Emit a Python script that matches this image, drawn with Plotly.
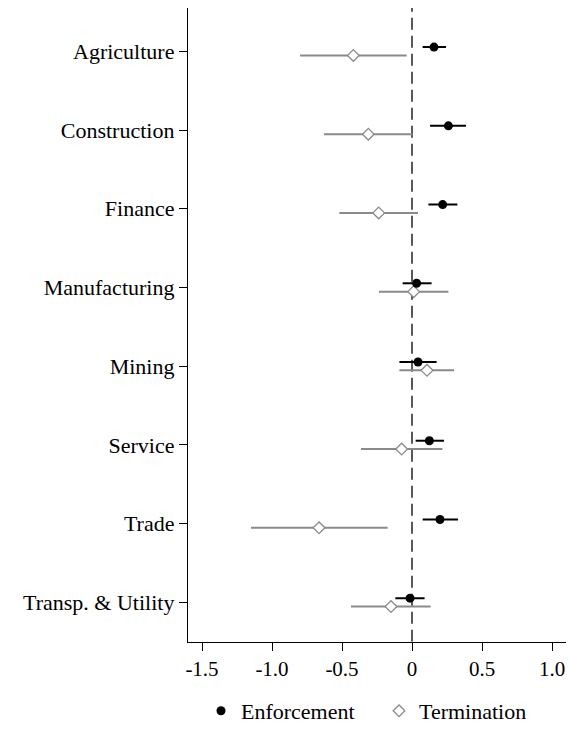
import numpy as np
import plotly.graph_objects as go

# Sector labels, top to bottom
sectors = ["Agriculture", "Construction", "Finance", "Manufacturing",
           "Mining", "Service", "Trade", "Transp. & Utility"]

# Point estimates and confidence bounds
enf_coef = [0.157, 0.260, 0.219, 0.033, 0.043, 0.124, 0.200, -0.014]
enf_lo = [0.076, 0.129, 0.117, -0.067, -0.090, 0.026, 0.076, -0.119]
enf_hi = [0.243, 0.386, 0.324, 0.140, 0.176, 0.229, 0.329, 0.090]

term_coef = [-0.419, -0.312, -0.238, 0.012, 0.107, -0.074, -0.664, -0.150]
term_lo = [-0.800, -0.629, -0.519, -0.236, -0.090, -0.364, -1.150, -0.436]
term_hi = [-0.038, 0.005, 0.043, 0.260, 0.300, 0.217, -0.174, 0.133]

x_ticks = [-1.5, -1.0, -0.5, 0, 0.5, 1.0]
x_tick_text = ["-1.5", "-1.0", "-0.5", "0", "0.5", "1.0"]

n = len(sectors)
pos = np.arange(n, 0, -1, dtype=float)  # first sector at the top
shift = 0.053

FONT = "Liberation Serif"
GREY = "#8a8a8a"

# figure geometry: the bottom strip of the plotting area holds the legend
W, H = 568, 732
LEFT, RIGHT_PAD = 188, 2
TOP, BOTTOM_AXIS = 8, 647
y_dom0 = (H - BOTTOM_AXIS) / (H - TOP)
legend_left = 201


def bars(coef, lo, hi):
    c = np.array(coef)
    return dict(type="data", symmetric=False,
                array=np.array(hi) - c, arrayminus=c - np.array(lo))


fig = go.Figure()
fig.add_trace(go.Scatter(
    x=term_coef, y=pos - shift, mode="markers", name="Termination",
    marker=dict(symbol="diamond", size=9, color="white",
                line=dict(color=GREY, width=1.3)),
    error_x=dict(**bars(term_coef, term_lo, term_hi), color=GREY,
                 thickness=2, width=0),
))
fig.add_trace(go.Scatter(
    x=enf_coef, y=pos + shift, mode="markers", name="Enforcement",
    marker=dict(symbol="circle", size=9, color="black"),
    error_x=dict(**bars(enf_coef, enf_lo, enf_hi), color="black",
                 thickness=2, width=0),
))

# reference line at zero
fig.add_shape(type="line", x0=0, x1=0, y0=0.5, y1=8.55, xref="x", yref="y",
              line=dict(color="black", width=1.3, dash="12px,6px"),
              layer="below")

fig.update_layout(
    width=W, height=H,
    margin=dict(l=LEFT, r=RIGHT_PAD, t=TOP, b=0),
    paper_bgcolor="white", plot_bgcolor="white",
    font=dict(family=FONT, size=22, color="black"),
    showlegend=True,
    legend=dict(orientation="h",
                x=(legend_left - LEFT) / (W - LEFT - RIGHT_PAD),
                xanchor="left",
                y=(H - 717) / (H - TOP), yanchor="middle",
                traceorder="reversed", bgcolor="rgba(0,0,0,0)",
                font=dict(family=FONT, size=22), itemwidth=30,
                entrywidth=133, entrywidthmode="pixels"),
    xaxis=dict(range=[-1.6, 1.1], tickvals=x_ticks, ticktext=x_tick_text,
               tickfont=dict(size=21),
               showgrid=False, zeroline=False, showline=True,
               linecolor="black", linewidth=1.3, ticks="outside",
               ticklen=8, tickwidth=1.3, tickcolor="black"),
    yaxis=dict(range=[0.5, 8.55], domain=[y_dom0, 1], tickvals=pos,
               ticktext=sectors, showgrid=False, zeroline=False,
               showline=True, linecolor="black", linewidth=1.3,
               ticks="outside", ticklen=8, tickwidth=1.3,
               tickcolor="black"),
)

fig.write_html("out.html")
